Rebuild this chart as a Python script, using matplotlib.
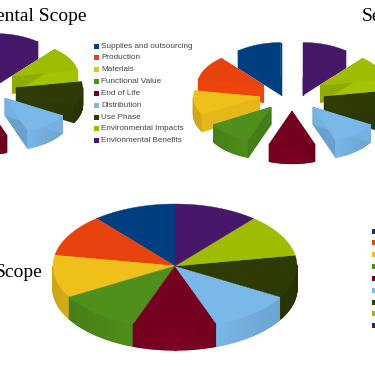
# -*- coding: utf-8 -*-
# three 3D pies (two exploded, one solid) with clipped titles and legends
import numpy as np
import matplotlib; matplotlib.use("Agg")
import matplotlib.pyplot as plt
from matplotlib.collections import PolyCollection
from matplotlib.colors import to_rgb
from matplotlib.patches import Rectangle

categories = ["Supplies and outsourcing", "Production", "Materials", "Functional Value",
              "End of Life", "Distribution", "Use Phase", "Environmental Impacts",
              "Envionmental Benefits"]
colors = ["#003f7f", "#e8430f", "#efc01a", "#4f8f1c", "#75001f",
          "#7ab8ea", "#2e3b05", "#9fbd00", "#47186a"]
env_shares = [11.1, 11.1, 11.1, 11.1, 11.1, 11.1, 11.1, 11.1, 11.1]
soc_shares = [11.1, 11.1, 11.1, 11.1, 11.1, 11.1, 11.1, 11.1, 11.1]
eco_shares = [11.1, 11.1, 11.1, 11.1, 11.1, 11.1, 11.1, 11.1, 11.1]

W, H = 375, 366
fig = plt.figure(figsize=(W/100, H/100), dpi=100)
ax = fig.add_axes([0, 0, 1, 1])
ax.set_xlim(0, W); ax.set_ylim(H, 0); ax.axis("off")


def shade(col, f):
    return tuple(min(1, c*f) for c in to_rgb(col))


def pie3d(shares, cx, cy, rx, ry, depth, explode=0.0):
    s = np.array(shares, float)
    edges = 90 + 360*np.cumsum(np.r_[0, s])/s.sum()   # counter-clockwise from 12 o'clock
    parts = []
    for i in range(len(s)):
        mid = np.radians((edges[i]+edges[i+1])/2)
        x0 = cx + explode*rx*np.cos(mid)
        y0 = cy - explode*ry*np.sin(mid)
        t = np.radians(np.linspace(edges[i], edges[i+1], 40))
        px = np.r_[x0, x0 + rx*np.cos(t)]
        py = np.r_[y0, y0 - ry*np.sin(t)]
        parts.append((y0, px, py, colors[i], np.sin(mid)))
    z = 1
    for y0, px, py, col, up in sorted(parts, key=lambda p: p[0]):  # back to front
        quads, cols = [], []
        n = len(px)
        for j in range(n):
            k = (j+1) % n
            cut = (j == 0 or k == 0)
            if explode == 0 and cut:    # solid pie: no cut faces
                continue
            if not cut and py[j] < y0:  # rim facing away from the viewer
                continue
            quads.append([(px[j], py[j]), (px[k], py[k]),
                          (px[k], py[k]+depth), (px[j], py[j]+depth)])
            dx, dy = px[k]-px[j], (py[k]-py[j])*rx/ry
            nx = abs(dy)/max(np.hypot(dx, dy), 1e-9)
            # rear slices show their cut faces flat, same colour as the top
            cols.append(col if up > 0.6 else shade(col, 1.06 - 0.2*nx))
        if quads:
            ax.add_collection(PolyCollection(quads, facecolors=cols, edgecolors=cols,
                                             linewidths=0.9, zorder=z))
        ax.fill(px, py, color=col, lw=0.3, zorder=z+1)
        z += 2


pie3d(env_shares, -16, 85, 66, 35, 17, explode=0.5)
pie3d(soc_shares, 292, 94, 66, 35, 17, explode=0.5)
pie3d(eco_shares, 175, 266, 122, 62, 22)

# legends: first with text, second cut off by the right edge
for i, (name, col) in enumerate(zip(categories, colors)):
    y = 46 + 11.85*i
    ax.add_patch(Rectangle((93.5, y-2.5), 5, 5, color=col, lw=0, zorder=50))
    ax.text(101, y, name, fontsize=5.9, family="Liberation Sans", color="#444444",
            va="center", ha="left", zorder=50)
    y2 = 231 + 11.85*i
    ax.add_patch(Rectangle((372, y2-2.5), 5, 5, color=col, lw=0, zorder=50))

# titles are cropped by the image border in the original
title = dict(family="Liberation Serif", fontsize=14, color="black", va="baseline", zorder=50)
ax.text(86, 21, "ental Scope", ha="right", **title)
ax.text(362, 21, "Se", ha="left", **title)
ax.text(42.7, 277, "Scope", ha="right", **title)

fig.savefig("out.png", dpi=100)
